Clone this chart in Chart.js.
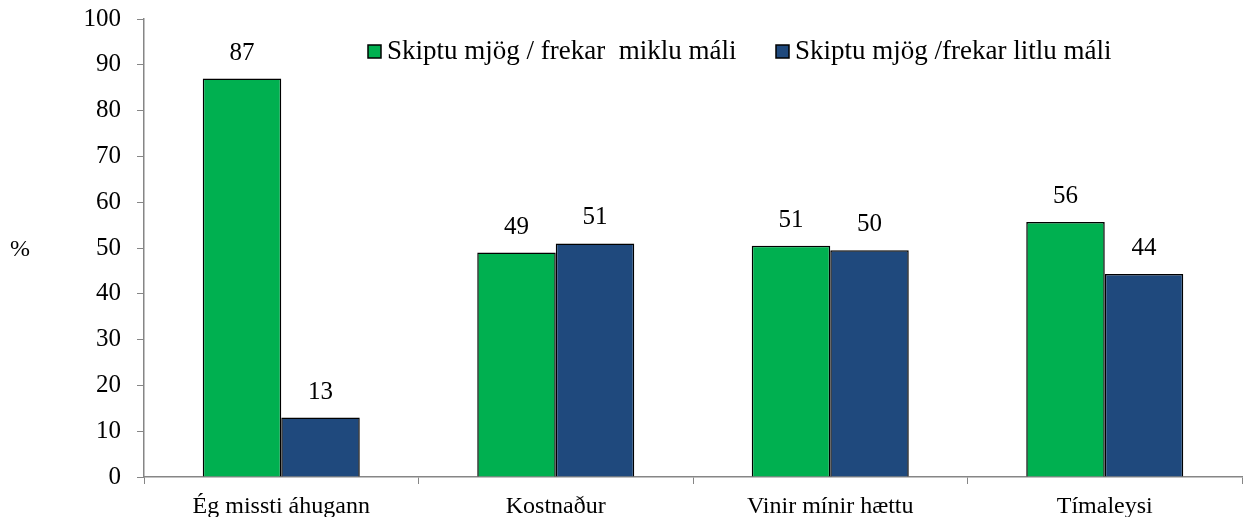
<!DOCTYPE html>
<html>
<head>
<meta charset="utf-8">
<script src="https://cdn.jsdelivr.net/npm/chart.js@4.4.1/dist/chart.umd.min.js"></script>
<style>
  html, body { margin: 0; padding: 0; background: #fff; }
  #wrap { width: 1243px; height: 517px; position: relative; }
</style>
</head>
<body>
<div id="wrap"><canvas id="chart"></canvas></div>
<script>
// chart data
const categories = ['Ég missti áhugann', 'Kostnaður', 'Vinir mínir hættu', 'Tímaleysi'];
const seriesNames = ['Skiptu mjög / frekar  miklu máli', 'Skiptu mjög /frekar litlu máli'];
const bigValues = [87, 49, 50.5, 55.7];
const smallValues = [13, 51, 49.5, 44.3];
const yTicks = [0, 10, 20, 30, 40, 50, 60, 70, 80, 90, 100];

const FONT = '"Liberation Serif", "Times New Roman", serif';
const AXIS = '#868686';

// value labels above each bar, plus the "%" axis title
const valueLabels = {
  id: 'valueLabels',
  afterDatasetsDraw(chart) {
    const ctx = chart.ctx;
    ctx.save();
    ctx.font = '25px ' + FONT;
    ctx.fillStyle = '#000';
    ctx.textAlign = 'center';
    ctx.textBaseline = 'bottom';
    chart.data.datasets.forEach((ds, i) => {
      chart.getDatasetMeta(i).data.forEach((bar, j) => {
        ctx.fillText(Math.round(ds.data[j]), bar.x, bar.y - 13);
      });
    });
    ctx.font = '24px ' + FONT;
    ctx.textBaseline = 'middle';
    ctx.fillText('%', 20, 250);
    ctx.restore();
  }
};

// legend drawn inside the plot area
const insideLegend = {
  id: 'insideLegend',
  afterDraw(chart) {
    const ctx = chart.ctx;
    const spots = [368, 776];
    ctx.save();
    ctx.font = '27px ' + FONT;
    ctx.textBaseline = 'middle';
    chart.data.datasets.forEach((ds, i) => {
      const x = spots[i], y = 51;
      ctx.fillStyle = ds.backgroundColor;
      ctx.fillRect(x, y - 6, 13, 13);
      ctx.strokeStyle = '#000';
      ctx.lineWidth = 1.5;
      ctx.strokeRect(x, y - 6, 13, 13);
      ctx.fillStyle = '#000';
      ctx.fillText(ds.label, x + 19, y + 1);
    });
    ctx.restore();
  }
};

new Chart(document.getElementById('chart'), {
  type: 'bar',
  data: {
    labels: categories,
    datasets: [
      { label: seriesNames[0], data: bigValues, backgroundColor: '#00B050', borderColor: '#000', borderWidth: 1.5 },
      { label: seriesNames[1], data: smallValues, backgroundColor: '#1F497D', borderColor: '#000', borderWidth: 1.5 }
    ]
  },
  options: {
    responsive: true,
    maintainAspectRatio: false,
    animation: false,
    layout: { padding: { top: 19, right: 1, left: 0, bottom: 0 } },
    datasets: { bar: { categoryPercentage: 0.572, barPercentage: 1 } },
    plugins: { legend: { display: false }, tooltip: { enabled: false } },
    scales: {
      x: {
        grid: { display: true, drawOnChartArea: false, offset: true, color: AXIS, tickLength: 7, tickColor: AXIS },
        border: { color: AXIS, width: 1.5 },
        ticks: { color: '#000', font: { family: FONT, size: 24 }, padding: 8, maxRotation: 0 },
        afterFit(s) { s.height = 40; s.paddingLeft = 0; s.paddingRight = 0; }
      },
      y: {
        min: 0, max: 100,
        afterBuildTicks(s) { s.ticks = yTicks.map(v => ({ value: v })); },
        grid: { drawOnChartArea: false, color: AXIS, tickLength: 7, tickColor: AXIS },
        border: { color: AXIS, width: 1.5 },
        ticks: { color: '#000', font: { family: FONT, size: 25 }, padding: 16 },
        afterFit(s) { s.width = 144; s.paddingTop = 0; s.paddingBottom = 0; }
      }
    }
  },
  plugins: [valueLabels, insideLegend]
});
</script>
</body>
</html>
